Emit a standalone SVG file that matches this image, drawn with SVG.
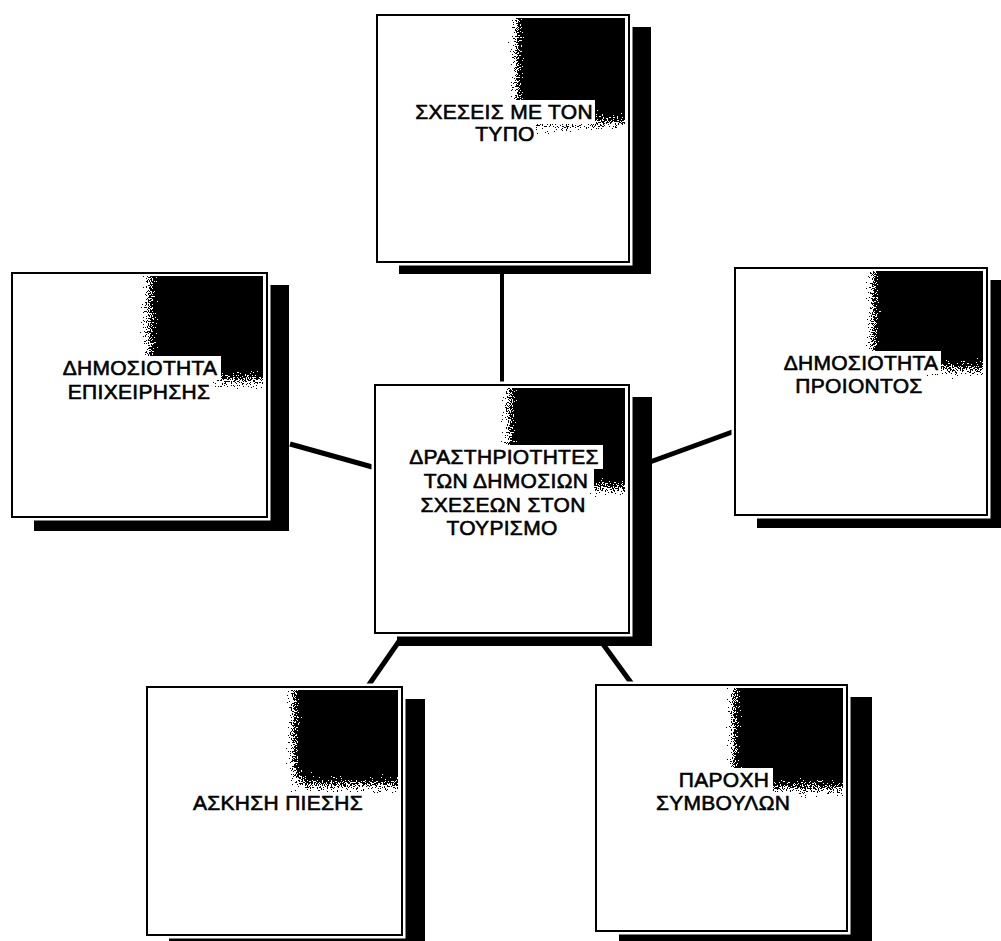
<svg xmlns="http://www.w3.org/2000/svg" width="1001" height="941" viewBox="0 0 1001 941">
<style>
.bg{fill:#fff}
.shadow{fill:#000}
.halo{fill:#fff;stroke:#fff;stroke-width:7}
.frame{fill:none;stroke:#000;stroke-width:2}
.tbg{fill:#fff}
.dark{fill:url(#gx)}
.lbl{font-family:"Liberation Sans",Arial,sans-serif;font-size:21px;fill:#000;stroke:#000;stroke-width:0.6;text-anchor:middle;letter-spacing:0.3px}
.conn{stroke:#000;stroke-width:5;fill:none}
</style>
<defs>
<linearGradient id="gx" x1="0" y1="0" x2="1" y2="0">
<stop offset="0" stop-color="#000" stop-opacity="0"/>
<stop offset="0.2" stop-color="#000" stop-opacity="1"/>
<stop offset="1" stop-color="#000" stop-opacity="1"/>
</linearGradient>
<linearGradient id="gy" x1="0" y1="0" x2="0" y2="1">
<stop offset="0" stop-color="#fff"/>
<stop offset="0.72" stop-color="#fff"/>
<stop offset="1" stop-color="#000"/>
</linearGradient>
<mask id="mv" maskContentUnits="objectBoundingBox">
<rect width="1" height="1" fill="url(#gy)"/>
</mask>
<filter id="dither" x="0" y="0" width="1" height="1" color-interpolation-filters="sRGB">
<feTurbulence type="fractalNoise" baseFrequency="0.8" numOctaves="2" seed="7" result="n"/>
<feColorMatrix in="n" type="matrix" values="0 0 0 0 0  0 0 0 0 0  0 0 0 0 0  1 0 0 0 0" result="na"/>
<feComposite in="SourceAlpha" in2="na" operator="arithmetic" k1="0" k2="1.3" k3="1.6" k4="-0.8" result="c"/>
<feComponentTransfer in="c">
<feFuncA type="discrete" tableValues="0 1"/>
</feComponentTransfer>
</filter>
</defs>
<rect class="bg" x="0" y="0" width="1001" height="941"/>

<g id="connectors">
<line class="conn" x1="502" y1="262" x2="502" y2="386" style="stroke-width:4"/>
<line class="conn" x1="290" y1="444" x2="376" y2="468"/>
<line class="conn" x1="628" y1="470" x2="735" y2="431"/>
<line class="conn" x1="402" y1="637" x2="368" y2="686"/>
<line class="conn" x1="600" y1="640" x2="632" y2="684"/>
</g>

<g id="node-press">
<rect class="shadow" x="399" y="27" width="252" height="247"/>
<rect class="halo" x="377" y="15" width="252" height="247"/>
<g filter="url(#dither)"><rect class="dark" x="508" y="18" width="117" height="117" mask="url(#mv)"/></g>
<rect class="tbg" x="413" y="100" width="182" height="24"/>
<rect class="tbg" x="472" y="124" width="64" height="22"/>
<rect class="frame" x="377" y="15" width="252" height="247"/>
<text class="lbl" x="504" y="119">ΣΧΕΣΕΙΣ ΜΕ ΤΟΝ</text>
<text class="lbl" x="505" y="141">ΤΥΠΟ</text>
</g>

<g id="node-company">
<rect class="shadow" x="34" y="285" width="255" height="246"/>
<rect class="halo" x="12" y="273" width="255" height="244"/>
<g filter="url(#dither)"><rect class="dark" x="140" y="276" width="123" height="116" mask="url(#mv)"/></g>
<rect class="tbg" x="60" y="356" width="161" height="24"/>
<rect class="tbg" x="66" y="380" width="147" height="23"/>
<rect class="frame" x="12" y="273" width="255" height="244"/>
<text class="lbl" x="140" y="375">ΔΗΜΟΣΙΟΤΗΤΑ</text>
<text class="lbl" x="139" y="399">ΕΠΙΧΕΙΡΗΣΗΣ</text>
</g>

<g id="node-product">
<rect class="shadow" x="757" y="280" width="252" height="248"/>
<rect class="halo" x="735" y="268" width="252" height="247"/>
<g filter="url(#dither)"><rect class="dark" x="864" y="271" width="119" height="110" mask="url(#mv)"/></g>
<rect class="tbg" x="781" y="351" width="160" height="23"/>
<rect class="tbg" x="792" y="374" width="134" height="23"/>
<rect class="frame" x="735" y="268" width="252" height="247"/>
<text class="lbl" x="861" y="370">ΔΗΜΟΣΙΟΤΗΤΑ</text>
<text class="lbl" x="859" y="393">ΠΡΟΙΟΝΤΟΣ</text>
</g>

<g id="node-center">
<rect class="shadow" x="397" y="397" width="255" height="249"/>
<rect class="halo" x="375" y="385" width="254" height="248"/>
<g filter="url(#dither)"><rect class="dark" x="500" y="388" width="125" height="112" mask="url(#mv)"/></g>
<rect class="tbg" x="404" y="445" width="199" height="24"/>
<rect class="tbg" x="419" y="469" width="175" height="24"/>
<rect class="tbg" x="417" y="493" width="172" height="24"/>
<rect class="tbg" x="444" y="517" width="116" height="23"/>
<rect class="frame" x="375" y="385" width="254" height="248"/>
<text class="lbl" x="504" y="464">ΔΡΑΣΤΗΡΙΟΤΗΤΕΣ</text>
<text class="lbl" x="506" y="488">ΤΩΝ ΔΗΜΟΣΙΩΝ</text>
<text class="lbl" x="503" y="512">ΣΧΕΣΕΩΝ ΣΤΟΝ</text>
<text class="lbl" x="502" y="535">ΤΟΥΡΙΣΜΟ</text>
</g>

<g id="node-lobbying">
<rect class="shadow" x="169" y="699" width="256" height="248"/>
<rect class="halo" x="147" y="687" width="255" height="248"/>
<g filter="url(#dither)"><rect class="dark" x="285" y="690" width="113" height="106" mask="url(#mv)"/></g>
<rect class="tbg" x="188" y="792" width="180" height="23"/>
<rect class="frame" x="147" y="687" width="255" height="248"/>
<text class="lbl" x="278" y="810">ΑΣΚΗΣΗ ΠΙΕΣΗΣ</text>
</g>

<g id="node-advice">
<rect class="shadow" x="619" y="697" width="253" height="250"/>
<rect class="halo" x="596" y="685" width="251" height="246"/>
<g filter="url(#dither)"><rect class="dark" x="725" y="688" width="118" height="112" mask="url(#mv)"/></g>
<rect class="tbg" x="675" y="768" width="98" height="24"/>
<rect class="tbg" x="649" y="792" width="148" height="23"/>
<rect class="frame" x="596" y="685" width="251" height="246"/>
<text class="lbl" x="724" y="787">ΠΑΡΟΧΗ</text>
<text class="lbl" x="723" y="810">ΣΥΜΒΟΥΛΩΝ</text>
</g>
</svg>
